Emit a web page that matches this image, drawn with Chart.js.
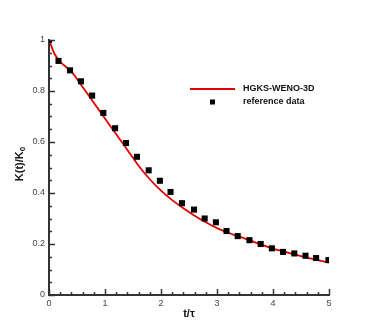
<!DOCTYPE html>
<html>
<head>
<meta charset="utf-8">
<script src="https://cdn.jsdelivr.net/npm/chart.js@4"></script>
<style>
  html, body { margin: 0; padding: 0; background: #fff; }
  #wrap { width: 374px; height: 332px; position: relative; }
</style>
</head>
<body>
<div id="wrap"><canvas id="c"></canvas></div>
<script>
// ---- data ----
const lineT = [0, 0.1, 0.2, 0.3, 0.4, 0.5, 0.6, 0.7, 0.8, 0.9, 1.0, 1.1, 1.2, 1.3, 1.4, 1.5, 1.6, 1.8, 2.0, 2.2, 2.4, 2.6, 2.8, 3.0, 3.2, 3.4, 3.6, 3.8, 4.0, 4.2, 4.4, 4.6, 4.8, 5.0];
const lineK = [1.0, 0.945, 0.914, 0.895, 0.876, 0.847, 0.816, 0.785, 0.754, 0.723, 0.692, 0.661, 0.630, 0.600, 0.569, 0.538, 0.507, 0.454, 0.409, 0.372, 0.340, 0.311, 0.285, 0.262, 0.244, 0.229, 0.213, 0.197, 0.182, 0.170, 0.158, 0.147, 0.137, 0.127];
const refT = [0, 0.17, 0.375, 0.57, 0.77, 0.97, 1.18, 1.375, 1.57, 1.78, 1.98, 2.17, 2.375, 2.59, 2.78, 2.98, 3.17, 3.37, 3.58, 3.78, 3.98, 4.18, 4.38, 4.58, 4.77, 4.99];
const refK = [1.0, 0.918, 0.881, 0.838, 0.782, 0.714, 0.654, 0.596, 0.542, 0.489, 0.448, 0.404, 0.360, 0.335, 0.300, 0.285, 0.251, 0.231, 0.215, 0.200, 0.183, 0.169, 0.163, 0.154, 0.145, 0.137];
const xTickLabels = ['0', '1', '2', '3', '4', '5'];
const yTickLabels = ['0', '0.2', '0.4', '0.6', '0.8', '1'];
const seriesNames = ['HGKS-WENO-3D', 'reference data'];
const xTitle = 't/τ';
const yTitleMain = 'K(t)/K';
const yTitleSub = '0';

const AXIS_COLOR = '#333333';
const RED = 'rgb(225,0,0)';

const inwardTicks = {
  id: 'inwardTicks',
  afterDatasetsDraw(chart) {
    const ctx = chart.ctx;
    const xs = chart.scales.x, ys = chart.scales.y;
    const a = chart.chartArea;
    ctx.save();
    ctx.strokeStyle = AXIS_COLOR;
    ctx.lineWidth = 1.5;
    for (let i = 0; i <= 25; i++) {
      const v = i * 0.2;
      const px = Math.round(xs.getPixelForValue(v)) + 0.5;
      const len = (i % 5 === 0) ? 6 : 3;
      ctx.beginPath(); ctx.moveTo(px, a.bottom); ctx.lineTo(px, a.bottom - len); ctx.stroke();
    }
    for (let i = 0; i <= 20; i++) {
      const v = i * 0.05;
      const py = Math.round(ys.getPixelForValue(v)) + 0.5;
      const len = (i % 4 === 0) ? 6 : 3;
      ctx.beginPath(); ctx.moveTo(a.left, py); ctx.lineTo(a.left + len, py); ctx.stroke();
    }
    ctx.restore();

    // axis titles
    ctx.save();
    ctx.fillStyle = '#111';
    ctx.font = 'bold 11px "Liberation Sans", Arial, sans-serif';
    ctx.textAlign = 'center';
    ctx.textBaseline = 'middle';
    ctx.fillText(xTitle, (a.left + a.right) / 2, 314);
    ctx.translate(20, 164);
    ctx.rotate(-Math.PI / 2);
    const wMain = ctx.measureText(yTitleMain).width;
    ctx.font = 'bold 8px "Liberation Sans", Arial, sans-serif';
    const wSub = ctx.measureText(yTitleSub).width;
    const total = wMain + wSub;
    ctx.textAlign = 'left';
    ctx.font = 'bold 11px "Liberation Sans", Arial, sans-serif';
    ctx.fillText(yTitleMain, -total / 2, 0);
    ctx.font = 'bold 8px "Liberation Sans", Arial, sans-serif';
    ctx.fillText(yTitleSub, -total / 2 + wMain, 3);
    ctx.restore();

    // legend
    ctx.save();
    const ds = chart.data.datasets;
    ctx.strokeStyle = ds[0].borderColor;
    ctx.lineWidth = 2;
    ctx.beginPath(); ctx.moveTo(190, 89); ctx.lineTo(235, 89); ctx.stroke();
    ctx.fillStyle = '#000';
    ctx.fillRect(210, 99.5, 5, 5);
    ctx.font = 'bold 9px "Liberation Sans", Arial, sans-serif';
    ctx.textAlign = 'left';
    ctx.textBaseline = 'middle';
    ctx.fillStyle = '#111';
    ctx.fillText(ds[0].label, 243, 89);
    ctx.fillText(ds[1].label, 243, 102);
    ctx.restore();
  }
};

new Chart(document.getElementById('c'), {
  type: 'scatter',
  data: {
    datasets: [
      {
        label: seriesNames[0],
        type: 'line',
        data: lineT.map((t, i) => ({ x: t, y: lineK[i] })),
        borderColor: RED,
        borderWidth: 1.8,
        pointRadius: 0,
        cubicInterpolationMode: 'monotone',
        fill: false,
        order: 2
      },
      {
        label: seriesNames[1],
        data: refT.map((t, i) => ({ x: t, y: refK[i] })),
        pointStyle: 'rect',
        pointRadius: 4.3,
        backgroundColor: '#000',
        borderColor: '#000',
        borderWidth: 0,
        order: 1
      }
    ]
  },
  options: {
    responsive: true,
    maintainAspectRatio: false,
    animation: false,
    layout: { padding: { top: 40, right: 45, bottom: 0, left: 0 } },
    plugins: { legend: { display: false }, tooltip: { enabled: false } },
    scales: {
      x: {
        type: 'linear', min: 0, max: 5,
        afterFit(s) { s.height = 37; },
        grid: { display: false, drawTicks: false },
        border: { display: true, color: AXIS_COLOR, width: 2 },
        ticks: {
          stepSize: 1, padding: 3, color: '#444',
          font: { family: '"Liberation Sans", Arial, sans-serif', size: 9 },
          autoSkip: false, maxRotation: 0,
          callback: (v) => xTickLabels[Math.round(v)]
        }
      },
      y: {
        type: 'linear', min: 0, max: 1,
        afterFit(s) { s.width = 49; },
        grid: { display: false, drawTicks: false },
        border: { display: true, color: AXIS_COLOR, width: 2 },
        ticks: {
          stepSize: 0.2, padding: 4, color: '#444',
          font: { family: '"Liberation Sans", Arial, sans-serif', size: 9 },
          autoSkip: false,
          callback: (v) => yTickLabels[Math.round(v * 5)]
        }
      }
    }
  },
  plugins: [inwardTicks]
});
</script>
</body>
</html>
